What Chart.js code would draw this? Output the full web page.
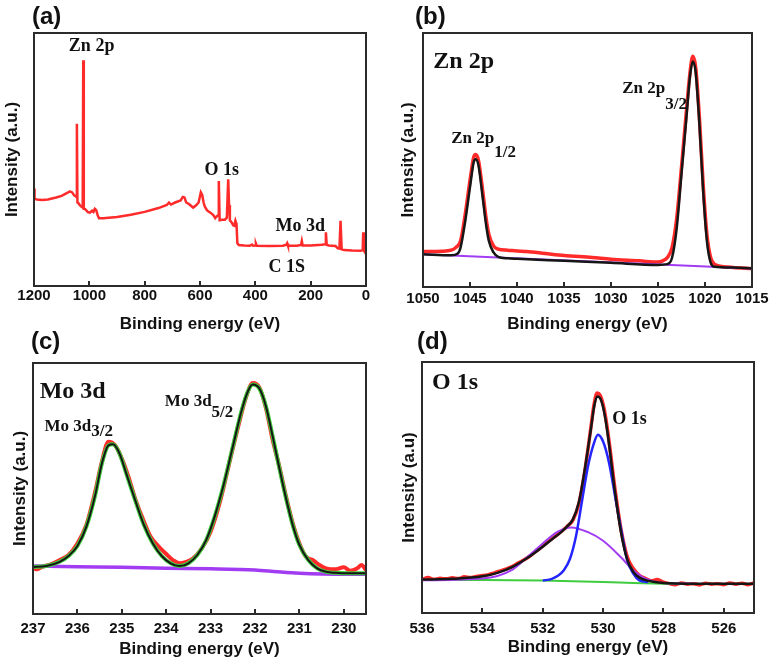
<!DOCTYPE html>
<html>
<head>
<meta charset="utf-8">
<script src="https://cdn.jsdelivr.net/npm/chart.js@4.4.1/dist/chart.umd.min.js"></script>
<style>
  body { margin: 0; background: #fff; }
  #wrap { position: relative; width: 773px; height: 667px; overflow: hidden; }
  canvas { position: absolute; }
  .tag { position: absolute; font: bold 24px 'Liberation Sans', Arial, sans-serif; color: #111; line-height: 1; }
</style>
</head>
<body>
<div id="wrap">
  <canvas id="chartA" width="380" height="340" style="left:0;top:0"></canvas>
  <canvas id="chartB" width="393" height="340" style="left:380px;top:0"></canvas>
  <canvas id="chartC" width="390" height="337" style="left:0;top:330px"></canvas>
  <canvas id="chartD" width="383" height="337" style="left:390px;top:330px"></canvas>
  <div class="tag" style="left:32px;top:4px">(a)</div>
  <div class="tag" style="left:415px;top:4px">(b)</div>
  <div class="tag" style="left:31px;top:329px">(c)</div>
  <div class="tag" style="left:417px;top:329px">(d)</div>
</div>
<script>
// (a) survey spectrum
var surveyBE  = [1200, 1198, 1190, 1170, 1150, 1120, 1100, 1080, 1070, 1062, 1055, 1050, 1047, 1045, 1043, 1040, 1035, 1030, 1024, 1022, 1020, 1015, 1005, 998, 990, 985, 980, 975, 970, 965, 950, 900, 850, 800, 750, 720, 712, 705, 690, 670, 662, 656, 650, 640, 625, 615, 605, 597, 592, 587, 583, 575, 570, 560, 552, 545, 540, 534, 532, 529, 520, 510, 503, 498, 495, 492, 485, 480, 476, 472, 468, 465, 460, 440, 420, 412, 408, 400, 398, 395, 350, 300, 288, 285, 282, 250, 235, 232, 229, 200, 160, 148, 145, 142, 135, 110, 102, 96, 92, 88, 80, 50, 20, 12, 10, 8, 5, 2, 0];
var surveyInt = [38.5, 34.5, 34.2, 34.0, 34.2, 35.0, 35.6, 36.8, 37.4, 37.0, 35.8, 35.5, 35.2, 64.1, 33.0, 32.8, 32.0, 31.5, 31.0, 89.2, 30.5, 30.4, 29.2, 29.0, 29.8, 29.3, 30.5, 30.0, 28.0, 26.8, 26.8, 27.3, 28.2, 29.3, 30.8, 32.0, 33.0, 32.2, 33.0, 33.8, 35.2, 35.0, 33.0, 32.4, 31.0, 31.8, 33.0, 37.0, 36.0, 33.0, 31.5, 30.0, 29.5, 28.8, 28.0, 26.8, 27.5, 28.0, 41.5, 26.0, 26.2, 26.2, 27.0, 42.2, 32.0, 26.0, 25.0, 24.0, 23.8, 25.8, 24.5, 17.0, 16.2, 16.0, 15.9, 16.4, 15.9, 16.0, 16.8, 15.9, 15.8, 15.9, 16.3, 16.9, 15.9, 15.9, 16.2, 17.8, 16.0, 16.0, 16.3, 16.5, 21.2, 16.3, 16.0, 15.8, 14.9, 14.8, 25.8, 14.5, 14.2, 14.0, 13.9, 14.2, 21.2, 14.0, 13.6, 13.0, 12.8];

// (b) Zn 2p
var znBE   = [1050, 1048, 1047, 1046.5, 1046, 1045.5, 1045, 1044.6, 1044.4, 1044.1, 1043.7, 1043.3, 1043, 1042.5, 1042, 1041, 1040, 1039, 1037, 1035, 1032, 1030, 1027, 1025, 1024.5, 1024, 1023.5, 1023, 1022.5, 1022, 1021.6, 1021.3, 1021, 1020.6, 1020.2, 1019.8, 1019.4, 1019, 1018, 1017, 1015];
var znData = [14.0, 14.1, 14.5, 15.6, 18.2, 28.8, 42.0, 51.2, 52.2, 49.9, 39.4, 27.4, 20.8, 16.2, 14.9, 14.5, 14.2, 14.0, 13.2, 12.4, 11.6, 10.9, 10.3, 9.8, 10.3, 11.6, 15.6, 27.4, 47.2, 68.3, 84.2, 90.8, 86.8, 67.0, 40.6, 20.8, 11.6, 9.0, 8.0, 7.7, 7.3];
var znFitBE = [1050, 1047, 1046.3, 1046, 1045.5, 1045, 1044.6, 1044.4, 1044.1, 1043.7, 1043.3, 1043, 1042.5, 1042, 1041, 1040, 1035, 1030, 1025, 1024, 1023.5, 1023, 1022.5, 1022, 1021.6, 1021.3, 1021, 1020.6, 1020.2, 1019.8, 1019.4, 1019, 1017, 1015];
var znFit   = [12.9, 12.5, 13.2, 15.6, 26.1, 39.3, 49.2, 50.3, 47.9, 36.7, 24.8, 18.2, 13.6, 11.9, 11.3, 11.1, 10.3, 9.5, 8.7, 9.0, 11.6, 23.5, 44.6, 65.7, 82.8, 88.8, 84.8, 64.4, 38.0, 18.2, 9.6, 8.0, 7.7, 7.3];
var znBgBE  = [1050, 1015];
var znBg    = [12.9, 7.3];

// (c) Mo 3d
var moBE   = [237, 236.9, 236.8, 236.6, 236.4, 236.2, 236.0, 235.8, 235.6, 235.45, 235.3, 235.15, 235.0, 234.85, 234.7, 234.5, 234.35, 234.2, 234.0, 233.85, 233.7, 233.55, 233.4, 233.2, 233.0, 232.8, 232.6, 232.4, 232.2, 232.05, 231.9, 231.75, 231.6, 231.45, 231.3, 231.15, 231.0, 230.85, 230.7, 230.55, 230.4, 230.2, 230.0, 229.85, 229.7, 229.6, 229.5];
var moData = [18.2, 17.8, 18.8, 19.8, 21.5, 23.5, 28.1, 35.4, 48.7, 60.6, 68.6, 67.2, 61.9, 54.6, 46.0, 36.7, 30.8, 27.5, 23.9, 21.5, 20.2, 20.8, 22.1, 26.1, 32.8, 44.0, 58.6, 73.2, 86.5, 92.0, 90.2, 81.8, 69.2, 58.6, 46.7, 36.1, 28.1, 22.8, 21.5, 19.5, 18.2, 17.8, 18.6, 17.2, 18.2, 19.5, 17.5];
var moFitBE = [237, 236.7, 236.4, 236.2, 236.0, 235.8, 235.6, 235.45, 235.3, 235.2, 235.05, 234.9, 234.7, 234.5, 234.3, 234.1, 233.9, 233.7, 233.5, 233.3, 233.1, 232.9, 232.7, 232.5, 232.3, 232.15, 232.05, 231.9, 231.75, 231.6, 231.45, 231.3, 231.15, 231.0, 230.8, 230.6, 230.4, 230.2, 229.9, 229.5];
var moFit   = [18.7, 19.1, 20.8, 23.1, 27.1, 34.7, 47.3, 59.9, 67.2, 67.6, 63.9, 56.0, 45.4, 35.4, 28.1, 23.1, 20.2, 19.1, 20.2, 23.5, 29.4, 39.3, 51.9, 66.6, 81.2, 89.1, 91.4, 89.8, 82.5, 70.6, 58.0, 46.0, 35.4, 27.5, 21.5, 18.2, 16.8, 16.4, 16.2, 16.2];
var moBgBE  = [237, 236, 235, 234, 233, 232, 231.5, 231, 230.5, 229.5];
var moBg    = [19.1, 18.8, 18.6, 18.2, 18.0, 17.5, 16.8, 16.2, 15.9, 15.8];

// (d) O 1s
var oBE   = [536, 535.8, 535.6, 535.4, 535.2, 535, 534.8, 534.6, 534.4, 534.2, 534, 533.8, 533.6, 533.4, 533.2, 533, 532.8, 532.6, 532.4, 532.2, 532, 531.8, 531.6, 531.4, 531.2, 531.0, 530.8, 530.6, 530.4, 530.3, 530.2, 530.1, 530.0, 529.9, 529.8, 529.6, 529.4, 529.2, 529.0, 528.8, 528.6, 528.4, 528.2, 528.0, 527.8, 527.6, 527.4, 527.2, 527, 526.8, 526.6, 526.4, 526.2, 526, 525.8, 525.6, 525.4, 525.2, 525];
var oData = [13.3, 14.1, 13.4, 13.8, 13.6, 14.0, 13.7, 14.4, 14.1, 14.6, 14.9, 15.3, 16.0, 16.8, 17.6, 18.6, 20.0, 21.3, 22.9, 24.8, 26.6, 28.6, 30.4, 32.4, 34.4, 37.0, 43.7, 57.0, 74.3, 83.0, 87.6, 86.8, 83.2, 76.8, 68.2, 48.9, 32.9, 22.4, 17.7, 15.0, 13.8, 12.8, 13.3, 12.3, 11.7, 11.3, 12.0, 11.5, 11.7, 11.2, 11.9, 11.5, 11.7, 11.3, 12.0, 11.5, 11.9, 11.3, 12.0];
var oFitBE = [536, 535, 534, 533.5, 533, 532.5, 532, 531.7, 531.4, 531.2, 531.0, 530.8, 530.6, 530.4, 530.3, 530.2, 530.1, 530.0, 529.9, 529.8, 529.6, 529.4, 529.2, 529.0, 528.8, 528.5, 528, 527, 525];
var oFit   = [13.3, 13.6, 14.6, 16.0, 18.4, 22.0, 26.4, 29.3, 32.1, 34.4, 37.3, 44.3, 57.7, 73.6, 82.0, 86.3, 85.6, 82.0, 75.6, 67.0, 47.7, 31.7, 21.3, 16.4, 14.1, 12.8, 12.0, 11.7, 11.7];
var oLatticeBE = [532.0, 531.7, 531.5, 531.3, 531.1, 530.9, 530.7, 530.5, 530.3, 530.17, 530.0, 529.8, 529.6, 529.4, 529.2, 529.0, 528.8, 528.5];
var oLattice   = [12.9, 13.6, 14.8, 17.0, 21.5, 30.5, 44.5, 58.5, 67.8, 71.0, 68.3, 59.7, 46.3, 33.0, 21.0, 15.7, 13.0, 12.3];
var oDefectBE = [536, 534, 533, 532.5, 532, 531.5, 531.05, 530.5, 530, 529.4, 529, 528.6, 528, 527];
var oDefect   = [13.0, 13.7, 17.3, 22.4, 27.7, 32.4, 34.1, 32.2, 28.8, 22.1, 17.0, 13.7, 12.0, 11.7];
var oBgBE = [536, 534, 532, 530, 529, 528, 527.5];
var oBg   = [13.1, 13.1, 12.9, 12.4, 12.0, 11.7, 11.6];

var RED = '#ff2a2a', BLACK = '#161616', PURPLE = '#a23cf2', GREEN = '#3fcc3f', BLUE = '#2424ff';
var SANS = "'Liberation Sans', Arial, sans-serif";
var SERIF = "'Liberation Serif', 'Times New Roman', serif";

function pts(xs, ys) {
    return xs.map(function (x, i) { return { x: x, y: ys[i] }; });
}

function line(xs, ys, color, width, smooth) {
    return {
        data: pts(xs, ys),
        borderColor: color,
        borderWidth: width,
        pointRadius: 0,
        fill: false,
        tension: 0,
        cubicInterpolationMode: smooth ? 'monotone' : 'default'
    };
}

// frame box, inward ticks and the serif peak labels
var framePlugin = {
    id: 'frame',
    afterDatasetsDraw: function (chart, args, opts) {
        var ctx = chart.ctx, a = chart.chartArea;
        var xs = chart.scales.x, ys = chart.scales.y;
        ctx.save();
        ctx.strokeStyle = '#2b2b2b';
        ctx.lineWidth = 2;
        ctx.strokeRect(a.left, a.top, a.right - a.left, a.bottom - a.top);
        xs.ticks.forEach(function (t) {
            var px = Math.round(xs.getPixelForValue(t.value));
            ctx.beginPath();
            ctx.moveTo(px, a.bottom);
            ctx.lineTo(px, a.bottom - 5);
            ctx.stroke();
        });
        ctx.fillStyle = '#111';
        ctx.textBaseline = 'middle';
        ctx.textAlign = 'left';
        (opts.labels || []).forEach(function (l) {
            var px = xs.getPixelForValue(l.x), py = ys.getPixelForValue(l.y);
            ctx.font = 'bold ' + l.size + 'px ' + SERIF;
            ctx.fillText(l.text, px, py);
            if (l.sub) {
                var w = ctx.measureText(l.text).width;
                ctx.font = 'bold ' + (l.subSize || l.size) + 'px ' + SERIF;
                ctx.fillText(l.sub, px + w, py + l.subDy);
            }
        });
        ctx.restore();
    }
};

function makePanel(id, o) {
    return new Chart(document.getElementById(id), {
        type: 'line',
        data: { datasets: o.datasets },
        options: {
            responsive: false,
            animation: false,
            layout: { padding: { top: o.top, right: o.right, left: 0, bottom: 0 } },
            plugins: {
                legend: { display: false },
                tooltip: { enabled: false },
                frame: { labels: o.labels }
            },
            scales: {
                x: {
                    type: 'linear',
                    reverse: true,
                    min: o.min,
                    max: o.max,
                    grid: { display: false, drawTicks: false },
                    border: { display: false },
                    ticks: {
                        stepSize: o.step,
                        includeBounds: false,
                        autoSkip: false,
                        maxRotation: 0,
                        padding: o.tickPad,
                        color: '#111',
                        font: { family: SANS, size: 15, weight: 'bold' },
                        callback: function (v) { return String(v); }
                    },
                    afterBuildTicks: function (s) {
                        s.ticks = s.ticks.filter(function (t) {
                            var r = t.value / o.step;
                            return Math.abs(r - Math.round(r)) < 1e-6;
                        });
                    },
                    title: {
                        display: true,
                        text: 'Binding energy (eV)',
                        color: '#111',
                        font: { family: SANS, size: 17, weight: 'bold' },
                        padding: { top: 0, bottom: o.xTitlePad }
                    },
                    afterFit: function (s) { s.height = o.xh; }
                },
                y: {
                    min: 0,
                    max: 100,
                    grid: { display: false, drawTicks: false },
                    border: { display: false },
                    ticks: { display: false },
                    title: {
                        display: true,
                        text: o.yTitle,
                        color: '#111',
                        font: { family: SANS, size: 17, weight: 'bold' },
                        padding: { top: o.yTitlePad, bottom: 0 }
                    },
                    afterFit: function (s) { s.width = o.left; }
                }
            }
        },
        plugins: [framePlugin]
    });
}

makePanel('chartA', {
    min: 0, max: 1200, step: 200,
    top: 33, right: 14, left: 34, xh: 54,
    tickPad: 1, xTitlePad: 5, yTitlePad: 2,
    yTitle: 'Intensity (a.u.)',
    datasets: [line(surveyBE, surveyInt, RED, 2.5, false)],
    labels: [
        { text: 'Zn 2p', x: 1074, y: 94.7, size: 18 },
        { text: 'O 1s', x: 584, y: 45.8, size: 18 },
        { text: 'Mo 3d', x: 327, y: 23.4, size: 18 },
        { text: 'C 1S', x: 352, y: 7.5, size: 18 }
    ]
});

makePanel('chartB', {
    min: 1015, max: 1050, step: 5,
    top: 33, right: 21, left: 43, xh: 53,
    tickPad: 3, xTitlePad: 5, yTitlePad: 18,
    yTitle: 'Intensity (a.u.)',
    datasets: [
        line(znFitBE, znFit, BLACK, 2.5, true),
        line(znBgBE, znBg, PURPLE, 2, false),
        line(znBE, znData, RED, 3.5, true)
    ],
    labels: [
        { text: 'Zn 2p', x: 1048.9, y: 88.8, size: 24 },
        { text: 'Zn 2p', sub: '3/2', x: 1028.8, y: 78.2, size: 17, subSize: 17, subDy: 16 },
        { text: 'Zn 2p', sub: '1/2', x: 1047, y: 58.4, size: 17, subSize: 17, subDy: 14 }
    ]
});

makePanel('chartC', {
    min: 229.5, max: 237, step: 1,
    top: 33, right: 24, left: 33, xh: 53,
    tickPad: 6, xTitlePad: 7, yTitlePad: 10,
    yTitle: 'Intensity (a.u.)',
    datasets: [
        line(moFitBE, moFit, BLACK, 2, true),
        line(moFitBE, moFit, GREEN, 4, true),
        line(moBgBE, moBg, PURPLE, 3.5, true),
        line(moBE, moData, RED, 4, true)
    ],
    labels: [
        { text: 'Mo 3d', x: 236.85, y: 88.7, size: 24 },
        { text: 'Mo 3d', sub: '5/2', x: 234.03, y: 84.5, size: 17, subSize: 17, subDy: 11 },
        { text: 'Mo 3d', sub: '3/2', x: 236.74, y: 74.5, size: 17, subSize: 17, subDy: 5 }
    ]
});

makePanel('chartD', {
    min: 525, max: 536, step: 2,
    top: 32, right: 19, left: 32, xh: 54,
    tickPad: 7, xTitlePad: 9, yTitlePad: 9,
    yTitle: 'Intensity (a.u)',
    datasets: [
        line(oFitBE, oFit, BLACK, 2.5, true),
        line(oLatticeBE, oLattice, BLUE, 2.5, true),
        line(oDefectBE, oDefect, PURPLE, 2, true),
        line(oBgBE, oBg, GREEN, 2, true),
        line(oBE, oData, RED, 3.5, true)
    ],
    labels: [
        { text: 'O 1s', x: 535.67, y: 91.6, size: 24 },
        { text: 'O 1s', x: 529.7, y: 77.2, size: 18 }
    ]
});
</script>
</body>
</html>
